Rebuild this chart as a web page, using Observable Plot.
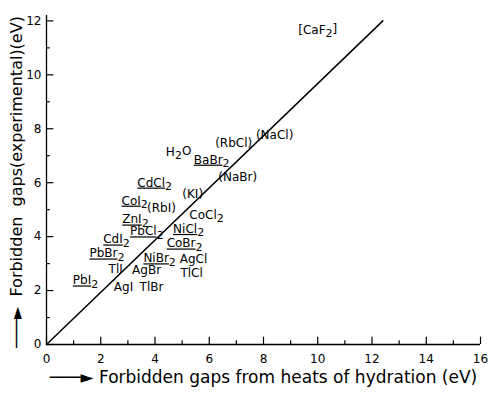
<!DOCTYPE html>
<html><head><meta charset="utf-8">
<script src="https://cdn.jsdelivr.net/npm/d3@7"></script>
<script src="https://cdn.jsdelivr.net/npm/@observablehq/plot@0.6"></script>
<style>
body{margin:0;background:#fff}
</style></head><body><div id="chart"></div>
<script>
// compound labels and their positions (data units)
const names = ["[CaF₂]","(NaCl)","(RbCl)","H₂O","BaBr₂","(NaBr)","(KI)","CdCl₂","CoI₂","(RbI)","ZnI₂","CoCl₂","NiCl₂","PbCl₂","CdI₂","CoBr₂","PbBr₂","NiBr₂","AgCl","TlI","AgBr","TlCl","PbI₂","AgI","TlBr"];
const labelX = [10.0, 8.41, 6.9, 4.87, 6.09, 7.05, 5.39, 3.99, 3.25, 4.24, 3.28, 5.9, 5.24, 3.7, 2.58, 5.09, 2.23, 4.17, 5.42, 2.55, 3.69, 5.35, 1.44, 2.84, 3.87];
const labelY = [11.67, 7.78, 7.48, 7.15, 6.85, 6.22, 5.59, 6.0, 5.33, 5.04, 4.63, 4.8, 4.28, 4.19, 3.89, 3.74, 3.37, 3.19, 3.15, 2.81, 2.74, 2.63, 2.37, 2.11, 2.11];
const underlined = [false,false,false,false,true,false,false,true,true,false,true,false,true,true,true,true,true,true,false,false,false,false,true,false,false];
const lineX = [0, 12.4];
const lineY = [0, 12];
const xMajor = [0,2,4,6,8,10,12,14,16];
const xMinor = [1,3,5,7,9,11,13,15];
const yMajor = [0,2,4,6,8,10,12];
const yMinor = [1,3,5,7,9,11];
const xLabel = "───► Forbidden gaps from heats of hydration (eV)";
const yLabel = "───►  Forbidden  gaps(experimental)(eV)";

const FONT = "'DejaVu Sans', sans-serif";
const idx = d3.range(names.length);
const ul = idx.filter(i => underlined[i]);
const plain = idx.filter(i => !underlined[i]);
const line = lineX.map((x, i) => ({x, y: lineY[i]}));

const plot = Plot.plot({
  width: 488, height: 393,
  marginLeft: 46, marginRight: 8, marginTop: 15, marginBottom: 49,
  style: {fontFamily: FONT, fontSize: "12px", color: "#000", background: "#fff"},
  x: {domain: [0, 16]},
  y: {domain: [0, 12.2]},
  marks: [
    Plot.ruleX([0], {stroke: "#000", strokeWidth: 1.3}),
    Plot.ruleY([0], {stroke: "#000", strokeWidth: 1.3}),
    Plot.ruleX(xMajor, {x: d => d, y1: 0, y2: 0.27, stroke: "#000", strokeWidth: 1.2}),
    Plot.ruleX(xMinor, {x: d => d, y1: 0, y2: 0.14, stroke: "#000", strokeWidth: 1.2}),
    Plot.ruleY(yMajor, {y: d => d, x1: 0, x2: 0.27, stroke: "#000", strokeWidth: 1.2}),
    Plot.ruleY(yMinor, {y: d => d, x1: 0, x2: 0.14, stroke: "#000", strokeWidth: 1.2}),
    Plot.axisX({ticks: xMajor, tickSize: 0, tickPadding: 10, label: null, fontSize: 12}),
    Plot.axisY({ticks: yMajor, tickSize: 0, tickPadding: 5, label: null, fontSize: 12}),
    Plot.line(line, {x: "x", y: "y", stroke: "#000", strokeWidth: 1.5}),
    Plot.text(plain, {x: i => labelX[i], y: i => labelY[i], text: i => names[i], fontSize: 12, fill: "#000"}),
    Plot.text(ul, {x: i => labelX[i], y: i => labelY[i], text: i => names[i], fontSize: 12, fill: "#000"}),
    Plot.text([xLabel], {frameAnchor: "bottom", dy: 38, fontSize: 17, fill: "#000"}),
    Plot.text([yLabel], {frameAnchor: "left", textAnchor: "middle", dx: -30, dy: 2, rotate: -90, fontSize: 16, fill: "#000"})
  ]
});
// typeset subscripts as lowered digits and underline the main part of underlined compounds
d3.select(plot).selectAll('g[aria-label="text"]').each(function(_, gi) {
  if (gi > 1) return;
  d3.select(this).selectAll("text").each(function() {
    const s = this.textContent;
    const parts = s.split("₂");
    const t = d3.select(this);
    t.text(null);
    parts.forEach((p, k) => {
      if (k > 0) t.append("tspan").attr("dy", "0.32em").attr("font-size", 11).text("2");
      if (p) {
        const sp = t.append("tspan").text(p);
        if (k > 0) sp.attr("dy", "-0.32em");
        if (gi === 1 && k === 0) sp.style("text-decoration", "underline");
      }
    });
  });
});
document.getElementById("chart").appendChild(plot);
</script></body></html>
